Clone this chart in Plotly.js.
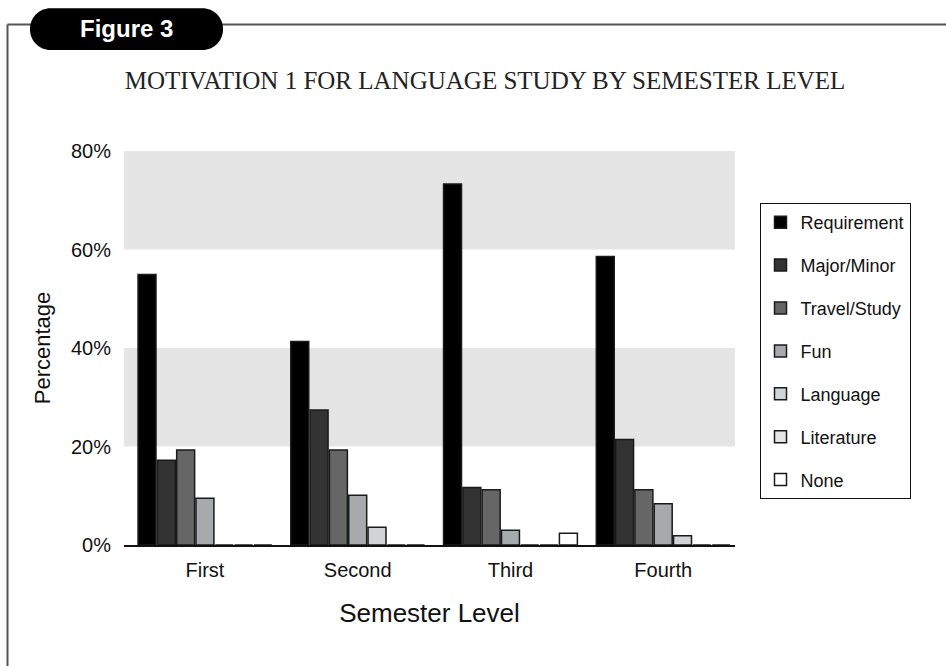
<!DOCTYPE html>
<html>
<head>
<meta charset="utf-8">
<script src="https://cdn.plot.ly/plotly-3.0.1.min.js"></script>
<style>html,body{margin:0;padding:0;background:#fff;}#chart{width:946px;height:666px;}</style>
</head>
<body>
<div id="chart"></div>
<script>
// ---- data ----
const semesters = ["First", "Second", "Third", "Fourth"];
const motivations = ["Requirement", "Major/Minor", "Travel/Study", "Fun", "Language", "Literature", "None"];
const requirement = [54.9, 41.3, 73.3, 58.6];
const majorMinor  = [17.2, 27.4, 11.7, 21.4];
const travelStudy = [19.3, 19.3, 11.2, 11.2];
const fun         = [9.5, 10.1, 3.0, 8.4];
const language    = [0, 3.6, 0, 1.9];
const literature  = [0, 0, 0, 0];
const none        = [0, 0, 2.4, 0];
const yTicks = [0, 20, 40, 60, 80];
const yTickLabels = ["0%", "20%", "40%", "60%", "80%"];

const seriesValues = [requirement, majorMinor, travelStudy, fun, language, literature, none];
const colors = ["#000000", "#333333", "#666666", "#a8a9ac", "#d2d3d4", "#e6e6e6", "#ffffff"];

// ---- geometry helpers ----
const W = 946, H = 666, ML = 124, MR = 211, MT = 151, MB = 121;
const PW = W - ML - MR, PH = H - MT - MB;
const px = x => (x - ML) / PW;
const py = y => (H - MB - y) / PH;

function pillPath(x0, y0, x1, y1, r) {
  const k = 0.5523 * r;
  const P = (x, y) => px(x).toFixed(5) + "," + py(y).toFixed(5);
  return "M" + P(x0 + r, y0) +
    " L" + P(x1 - r, y0) +
    " C" + P(x1 - r + k, y0) + " " + P(x1, y0 + r - k) + " " + P(x1, y0 + r) +
    " L" + P(x1, y1 - r) +
    " C" + P(x1, y1 - r + k) + " " + P(x1 - r + k, y1) + " " + P(x1 - r, y1) +
    " L" + P(x0 + r, y1) +
    " C" + P(x0 + r - k, y1) + " " + P(x0, y1 - r + k) + " " + P(x0, y1 - r) +
    " L" + P(x0, y0 + r) +
    " C" + P(x0, y0 + r - k) + " " + P(x0 + r - k, y0) + " " + P(x0 + r, y0) + " Z";
}

const sans = "Liberation Sans, Arial, sans-serif";

const traces = motivations.map((name, i) => ({
  type: "bar",
  name: name,
  x: semesters,
  y: seriesValues[i],
  legendgroup: "g" + i,
  marker: { color: colors[i], line: { color: "#1a1a1a", width: 1.5 } },
  hoverinfo: "name+y"
}));

const layout = {
  width: W, height: H,
  margin: { l: ML, r: MR, t: MT, b: MB, pad: 0 },
  paper_bgcolor: "#ffffff",
  plot_bgcolor: "rgba(0,0,0,0)",
  font: { family: sans, color: "#111" },
  barmode: "group",
  bargap: 0.115,
  bargroupgap: 0.07,
  title: {
    text: "MOTIVATION 1 FOR LANGUAGE STUDY BY SEMESTER LEVEL",
    font: { family: "Liberation Serif, Times New Roman, serif", size: 25, color: "#222" },
    x: 485 / W, xanchor: "center", xref: "container",
    y: 1 - 80 / H, yanchor: "middle", yref: "container"
  },
  xaxis: {
    type: "category",
    range: [-0.53, 3.47],
    showline: true, linecolor: "#111", linewidth: 2,
    ticks: "", showgrid: false, zeroline: false,
    tickfont: { family: sans, size: 20, color: "#111" },
    ticklabelstandoff: 6,
    title: { text: "Semester Level", font: { size: 26, color: "#111" }, standoff: 24 }
  },
  yaxis: {
    range: [0, 80],
    tickmode: "array",
    tickvals: yTicks,
    ticktext: yTickLabels,
    showline: false, showgrid: false, zeroline: false, ticks: "",
    tickfont: { size: 20, color: "#111" },
    ticklabelstandoff: 12,
    title: { text: "Percentage", font: { size: 22, color: "#111" }, standoff: 14 }
  },
  legend: {
    x: px(759.5), xanchor: "left", y: py(203), yanchor: "top",
    bordercolor: "#111", borderwidth: 1, bgcolor: "#ffffff",
    font: { family: sans, size: 18, color: "#111" },
    tracegroupgap: 16.5,
    traceorder: "grouped"
  },
  shapes: [
    { type: "rect", xref: "paper", yref: "y", x0: 0, x1: 1, y0: 20, y1: 40, fillcolor: "#e5e5e5", line: { width: 0 }, layer: "below" },
    { type: "rect", xref: "paper", yref: "y", x0: 0, x1: 1, y0: 60, y1: 80, fillcolor: "#e5e5e5", line: { width: 0 }, layer: "below" },
    { type: "line", xref: "paper", yref: "paper", x0: px(7.5), x1: px(946), y0: py(24.5), y1: py(24.5), line: { color: "#555", width: 2 } },
    { type: "line", xref: "paper", yref: "paper", x0: px(7.5), x1: px(7.5), y0: py(24.5), y1: py(666), line: { color: "#555", width: 2 } },
    { type: "path", xref: "paper", yref: "paper", path: pillPath(30, 8.3, 223, 50, 20.5), fillcolor: "#000000", line: { width: 0 } }
  ],
  annotations: [
    { xref: "paper", yref: "paper", x: px(126.5), y: py(28.5), text: "<b>Figure 3</b>", showarrow: false,
      xanchor: "center", yanchor: "middle", font: { family: sans, size: 24, color: "#ffffff" } }
  ]
};

Plotly.newPlot("chart", traces, layout, { displayModeBar: false, staticPlot: true });
</script>
</body>
</html>
